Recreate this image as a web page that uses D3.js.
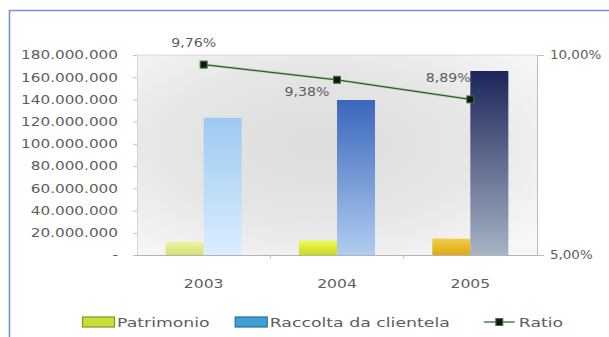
<!DOCTYPE html>
<html>
<head>
<meta charset="utf-8">
<script src="https://cdn.jsdelivr.net/npm/d3@7"></script>
<style>
  html, body { margin: 0; padding: 0; background: #ffffff; }
  svg { display: block; }
  text { font-family: "DejaVu Sans", "Noto Sans", sans-serif; fill: #5e5e5e; }
</style>
</head>
<body>
<svg id="chart" width="609" height="337"></svg>
<script>
// ---- data ----
const years = ["2003", "2004", "2005"];
const patrimonio = [12050000, 13080000, 14720000];
const raccolta = [123500000, 139500000, 165600000];
const ratio = [0.0976, 0.0938, 0.0889];
const ratioLabels = ["9,76%", "9,38%", "8,89%"];
const leftTicks = [0, 20000000, 40000000, 60000000, 80000000, 100000000, 120000000, 140000000, 160000000, 180000000];
const rightTicks = [0.05, 0.10];
const seriesNames = ["Patrimonio", "Raccolta da clientela", "Ratio"];

// ---- styles ----
const patrimonioColors = [["#eef3a8", "#d6e070"], ["#eef75a", "#c8dc1c"], ["#f3cc4a", "#dca912"]];
const raccoltaColors = [["#9ccaf2", "#dcedff"], ["#3a66bc", "#b0cdf0"], ["#1c255a", "#a6b3c4"]];
const labelPlacement = [{dx: -10, dy: -22}, {dx: -30, dy: 12}, {dx: -22, dy: -22}];

const svg = d3.select("#chart");
const defs = svg.append("defs");
const itLocale = d3.formatLocale({decimal: ",", thousands: ".", grouping: [3], currency: ["€", ""]});
const fmtNum = itLocale.format(",.0f");
const fmtPct = itLocale.format(".2%");

// widen text to imitate a broad geometric face
function widen(sel, k) {
  sel.each(function () {
    const w = this.getComputedTextLength();
    d3.select(this).attr("textLength", w * k).attr("lengthAdjust", "spacingAndGlyphs");
  });
}

const plot = {left: 137, right: 537, top: 55, bottom: 255};

const x = d3.scaleBand().domain(years).range([plot.left, plot.right]);
const xs = d3.scaleBand().domain(["p", "r"]).range([0, x.bandwidth()]).paddingOuter(0.754);
const yL = d3.scaleLinear().domain([0, 180000000]).range([plot.bottom, plot.top]);
const yR = d3.scaleLinear().domain([0.05, 0.10]).range([plot.bottom, plot.top]);

// frame
svg.append("line").attr("x1", 9).attr("x2", 609).attr("y1", 10.5).attr("y2", 10.5)
  .attr("stroke", "#7692d0").attr("stroke-width", 1.6);
svg.append("line").attr("x1", 9.5).attr("x2", 9.5).attr("y1", 10).attr("y2", 337)
  .attr("stroke", "#7692d0").attr("stroke-width", 1.6);

// plot area background
const bg = defs.append("radialGradient").attr("id", "bg")
  .attr("cx", "45%").attr("cy", "45%").attr("r", "70%");
bg.append("stop").attr("offset", "0%").attr("stop-color", "#dcdcdc");
bg.append("stop").attr("offset", "55%").attr("stop-color", "#e6e6e6");
bg.append("stop").attr("offset", "100%").attr("stop-color", "#f7f7f7");
svg.append("rect").attr("x", plot.left).attr("y", plot.top)
  .attr("width", plot.right - plot.left).attr("height", plot.bottom - plot.top)
  .attr("fill", "url(#bg)");

// top gridline
svg.append("line").attr("x1", plot.left).attr("x2", plot.right)
  .attr("y1", yL(180000000)).attr("y2", yL(180000000))
  .attr("stroke", "#d8d8d8").attr("stroke-width", 1);

// left axis
const axL = svg.append("g").attr("transform", `translate(${plot.left},0)`)
  .call(d3.axisLeft(yL).tickValues(leftTicks).tickSize(4).tickPadding(15)
    .tickFormat(d => d === 0 ? "-" : fmtNum(d)));
axL.select(".domain").attr("stroke", "#d4d4d4");
axL.selectAll(".tick line").attr("stroke", "#c4c4c4");
axL.selectAll(".tick text").attr("font-size", 12).attr("fill", "#5e5e5e")
  .attr("font-family", null).call(widen, 1.27);

// right axis
const axR = svg.append("g").attr("transform", `translate(${plot.right},0)`)
  .call(d3.axisRight(yR).tickValues(rightTicks).tickSize(7).tickPadding(6)
    .tickFormat(d => fmtPct(d)));
axR.select(".domain").attr("stroke", "#bdbdbd");
axR.selectAll(".tick line").attr("stroke", "#bdbdbd");
axR.selectAll(".tick text").attr("font-size", 12).attr("fill", "#5e5e5e")
  .attr("font-family", null).call(widen, 1.12);

// category axis
svg.append("line").attr("x1", plot.left).attr("x2", plot.right + 3)
  .attr("y1", plot.bottom + 0.5).attr("y2", plot.bottom + 0.5)
  .attr("stroke", "#b4b4b4");
svg.selectAll(".catTick").data(years.slice(1)).enter().append("line")
  .attr("x1", d => x(d)).attr("x2", d => x(d))
  .attr("y1", plot.bottom).attr("y2", plot.bottom + 4)
  .attr("stroke", "#c4c4c4");
svg.selectAll(".yearLabel").data(years).enter().append("text")
  .attr("x", d => x(d) + x.bandwidth() / 2).attr("y", 288)
  .attr("text-anchor", "middle").attr("font-size", 13)
  .text(d => d).call(widen, 1.2);

// ratio labels (sit under the bars)
svg.selectAll(".ratioLabel").data(ratio).enter().append("text")
  .attr("x", (d, i) => x(years[i]) + x.bandwidth() / 2 + labelPlacement[i].dx)
  .attr("y", (d, i) => yR(d) + labelPlacement[i].dy + 4.5)
  .attr("text-anchor", "middle").attr("font-size", 12)
  .text((d, i) => ratioLabels[i]).call(widen, 1.18);

// bar gradients
function vGrad(id, top, bottom) {
  const g = defs.append("linearGradient").attr("id", id)
    .attr("x1", 0).attr("y1", 0).attr("x2", 0).attr("y2", 1);
  g.append("stop").attr("offset", "0%").attr("stop-color", top);
  g.append("stop").attr("offset", "100%").attr("stop-color", bottom);
}
years.forEach((y, i) => {
  vGrad("pat" + i, patrimonioColors[i][0], patrimonioColors[i][1]);
  vGrad("rac" + i, raccoltaColors[i][0], raccoltaColors[i][1]);
});

// Patrimonio bars
svg.selectAll(".barP").data(patrimonio).enter().append("rect")
  .attr("x", (d, i) => x(years[i]) + xs("p"))
  .attr("y", d => yL(d))
  .attr("width", xs.bandwidth())
  .attr("height", d => yL(0) - yL(d))
  .attr("fill", (d, i) => `url(#pat${i})`);

// Raccolta bars
svg.selectAll(".barR").data(raccolta).enter().append("rect")
  .attr("x", (d, i) => x(years[i]) + xs("r"))
  .attr("y", d => yL(d))
  .attr("width", xs.bandwidth())
  .attr("height", d => yL(0) - yL(d))
  .attr("fill", (d, i) => `url(#rac${i})`);

// Ratio line
const line = d3.line()
  .x((d, i) => x(years[i]) + x.bandwidth() / 2)
  .y(d => yR(d));
svg.append("path").datum(ratio).attr("d", line)
  .attr("fill", "none").attr("stroke", "#b8d8b0").attr("stroke-width", 3).attr("opacity", 0.7);
svg.append("path").datum(ratio).attr("d", line)
  .attr("fill", "none").attr("stroke", "#2f5a2c").attr("stroke-width", 1.2);
svg.selectAll(".marker").data(ratio).enter().append("rect")
  .attr("x", (d, i) => x(years[i]) + x.bandwidth() / 2 - 3.5)
  .attr("y", d => yR(d) - 3.5)
  .attr("width", 7).attr("height", 7)
  .attr("fill", "#111a11").attr("stroke", "#3d7a3a").attr("stroke-width", 1);

// legend
const legend = svg.append("g").attr("transform", "translate(82,322)");
let lx = 0;
const swatchColors = [["#c8df3a", "#7f9620"], ["#3d9fd2", "#2a6f98"]];
const legendGaps = [25, 34, 0];
seriesNames.forEach((name, i) => {
  const g = legend.append("g").attr("transform", `translate(${lx},0)`);
  let sw;
  if (i < 2) {
    g.append("rect").attr("x", 0.5).attr("y", -5).attr("width", 32).attr("height", 10)
      .attr("fill", swatchColors[i][0]).attr("stroke", swatchColors[i][1]).attr("stroke-width", 1.2);
    sw = 35;
  } else {
    g.append("line").attr("x1", 0).attr("x2", 31).attr("y1", 0).attr("y2", 0)
      .attr("stroke", "#2f5a2c").attr("stroke-width", 1.2);
    g.append("rect").attr("x", 12).attr("y", -3.5).attr("width", 7).attr("height", 7)
      .attr("fill", "#111a11").attr("stroke", "#3d7a3a");
    sw = 35;
  }
  const t = g.append("text").attr("x", sw).attr("y", 4.5).attr("font-size", 13).text(name);
  t.call(widen, 1.33);
  lx += sw + (+t.attr("textLength")) + legendGaps[i];
});
</script>
</body>
</html>
